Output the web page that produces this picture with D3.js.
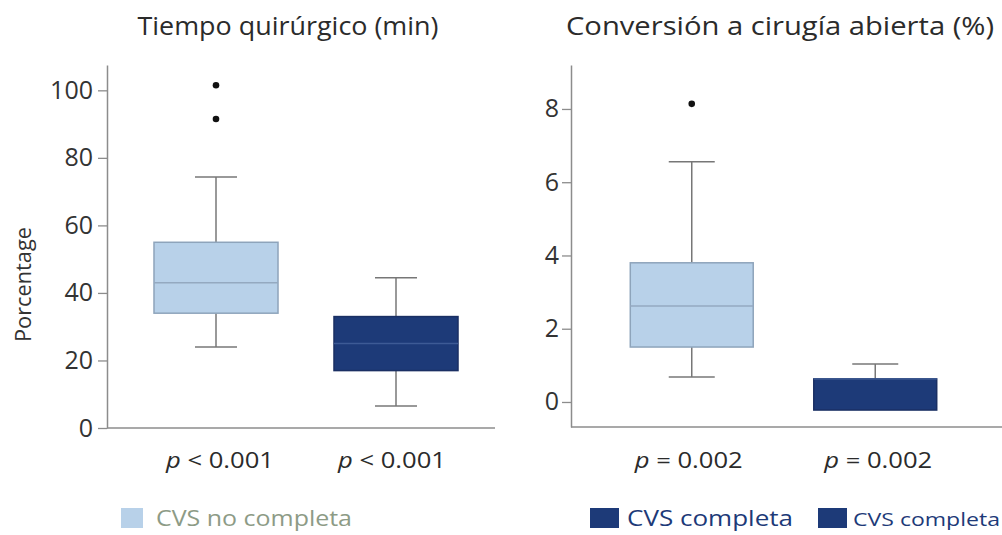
<!DOCTYPE html>
<html><head><meta charset="utf-8">
<script src="https://cdn.jsdelivr.net/npm/d3@7"></script>
<style>body{margin:0;background:#fff;font-family:"Open Sans",sans-serif;}</style>
</head><body>
<svg id="c" width="1002" height="535"></svg>
<script>
// ---- data ----
const panelTitles = ["Tiempo quirúrgico (min)", "Conversión a cirugía abierta (%)"];
const groups = ["CVS no completa", "CVS completa"];
const pLabels = [["< 0.001", "< 0.001"], ["= 0.002", "= 0.002"]];
// box stats: [whiskerLow, q1, median, q3, whiskerHigh]
const timeStats = [[24, 34, 43, 55, 74.3], [6.5, 17, 25, 33, 44.5]];
const timeOutliers = [[101.5, 91.5], []];
const convStats = [[0.68, 1.5, 2.62, 3.8, 6.56], [-0.22, -0.22, 0.63, 0.63, 1.04]];
const convOutliers = [[8.14], []];
const timeTicks = [0, 20, 40, 60, 80, 100];
const convTicks = [0, 2, 4, 6, 8];
const legendLabels = ["CVS no completa", "CVS completa", "CVS completa"];

const colors = ["#b8d1e9", "#1d3a78"];
const strokes = ["#8ea4bb", "#1a2f63"];

const svg = d3.select("#c");

function panel(opts) {
  const g = svg.append("g");
  const y = d3.scaleLinear().domain(opts.domain).range([opts.bottom, opts.top]);
  const x = d3.scaleBand().domain(groups).range(opts.xr).paddingInner(opts.pad).paddingOuter(opts.pad / 2);
  // axis
  const ax = g.append("g").attr("transform", `translate(${opts.x0},0)`)
    .call(d3.axisLeft(y).tickValues(opts.ticks).tickSize(9).tickPadding(opts.tp).tickSizeOuter(0));
  ax.select(".domain").attr("stroke", "#8c8c8c").attr("stroke-width", 1.5);
  ax.selectAll(".tick line").attr("stroke", "#8c8c8c").attr("stroke-width", 1.3);
  ax.selectAll(".tick text").attr("fill", "#333").attr("font-size", 25).attr("font-family", "Open Sans");
  // x baseline
  g.append("line").attr("x1", opts.x0).attr("x2", opts.xEnd)
    .attr("y1", opts.bottom).attr("y2", opts.bottom).attr("stroke", "#8c8c8c").attr("stroke-width", 1.5);
  // title
  g.append("text").attr("x", opts.titleX).attr("y", 35).attr("text-anchor", "middle")
    .attr("font-size", 26).attr("fill", "#2b2b2b")
    .attr("textLength", opts.titleW).attr("lengthAdjust", "spacingAndGlyphs").text(opts.title);
  const bw = x.bandwidth();
  opts.stats.forEach((s, i) => {
    const cx = x(groups[i]) + bw / 2;
    const [lo, q1, med, q3, hi] = s;
    const capW = opts.capW;
    // whiskers
    g.append("line").attr("x1", cx).attr("x2", cx).attr("y1", y(q3)).attr("y2", y(hi)).attr("stroke", "#777").attr("stroke-width", 1.5);
    g.append("line").attr("x1", cx).attr("x2", cx).attr("y1", y(q1)).attr("y2", y(lo)).attr("stroke", "#777").attr("stroke-width", 1.5);
    g.append("line").attr("x1", cx - capW / 2).attr("x2", cx + capW / 2).attr("y1", y(hi)).attr("y2", y(hi)).attr("stroke", "#777").attr("stroke-width", 1.5);
    if (lo < q1) g.append("line").attr("x1", cx - capW / 2).attr("x2", cx + capW / 2).attr("y1", y(lo)).attr("y2", y(lo)).attr("stroke", "#777").attr("stroke-width", 1.5);
    // box
    g.append("rect").attr("x", x(groups[i])).attr("width", bw).attr("y", y(q3)).attr("height", y(q1) - y(q3))
      .attr("fill", colors[i]).attr("stroke", strokes[i]).attr("stroke-width", 1.5);
    g.append("line").attr("x1", x(groups[i])).attr("x2", x(groups[i]) + bw).attr("y1", y(med)).attr("y2", y(med))
      .attr("stroke", i === 0 ? "#94a9c0" : "#3d5a95").attr("stroke-width", 1.5);
    opts.outliers[i].forEach(v => {
      g.append("circle").attr("cx", cx).attr("cy", y(v)).attr("r", 3.3).attr("fill", "#111");
    });
    // p label
    const t = g.append("text").attr("x", cx + opts.pShift[i]).attr("y", 468).attr("text-anchor", "middle")
      .attr("font-size", 22).attr("fill", "#2b2b2b")
      .attr("textLength", 108).attr("lengthAdjust", "spacingAndGlyphs");
    t.append("tspan").attr("font-style", "italic").text("p");
    t.append("tspan").text(" " + opts.p[i]);
  });
  return g;
}

panel({domain: [0, 107.5], top: 65, bottom: 428, x0: 107, xEnd: 495, xr: [126, 486], pad: 0.311, tp: 5,
  ticks: timeTicks, stats: timeStats, outliers: timeOutliers, title: panelTitles[0], titleX: 288, titleW: 301,
  capW: 42, p: pLabels[0], pShift: [4, -4]});
panel({domain: [-0.683, 9.2], top: 65, bottom: 427, x0: 571, xEnd: 1002, xr: [600, 967], pad: 0.33, tp: 3,
  ticks: convTicks, stats: convStats, outliers: convOutliers, title: panelTitles[1], titleX: 780, titleW: 428,
  capW: 46, p: pLabels[1], pShift: [-3, 3]});

// y label
svg.append("text").attr("transform", "translate(31,284.5) rotate(-90)").attr("text-anchor", "middle")
  .attr("font-size", 22).attr("fill", "#333")
  .attr("textLength", 115).attr("lengthAdjust", "spacingAndGlyphs").text("Porcentage");

// legend
const leg = [
  {x: 121, c: colors[0], tc: "#8d9b86", fs: 22, w: 22, tx: 156, tw: 196},
  {x: 590, c: colors[1], tc: "#1d3a78", fs: 22, w: 29, tx: 627, tw: 166},
  {x: 818, c: colors[1], tc: "#1d3a78", fs: 19, w: 29, tx: 853, tw: 147}
];
leg.forEach((d, i) => {
  svg.append("rect").attr("x", d.x).attr("y", 508).attr("width", d.w).attr("height", 20).attr("fill", d.c);
  svg.append("text").attr("x", d.tx).attr("y", 526).attr("font-size", d.fs)
    .attr("textLength", d.tw).attr("lengthAdjust", "spacingAndGlyphs")
    .attr("fill", d.tc).text(legendLabels[i]);
});
</script>
</body></html>
